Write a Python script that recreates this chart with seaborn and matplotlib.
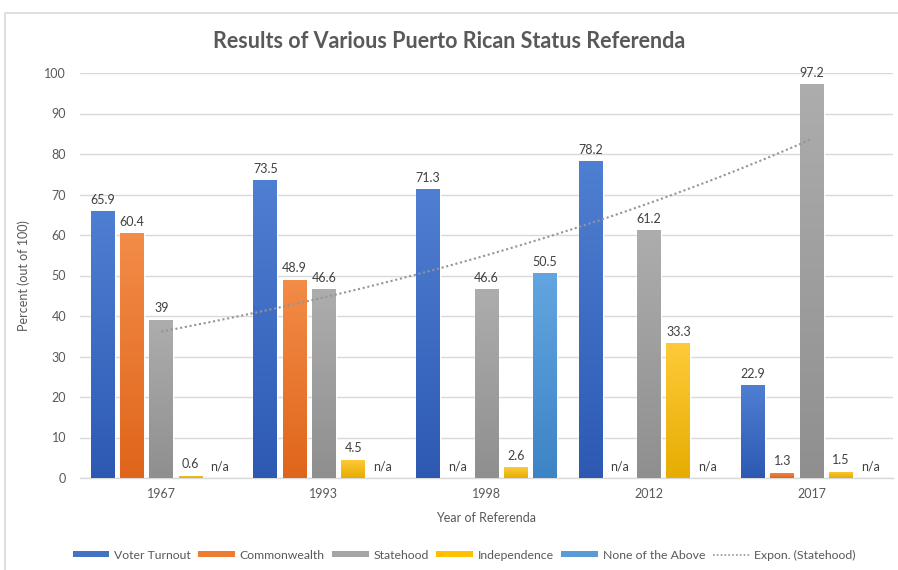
import matplotlib
matplotlib.use("Agg")
import matplotlib.pyplot as plt
from matplotlib.colors import LinearSegmentedColormap
from matplotlib.patches import Rectangle
from matplotlib.lines import Line2D
import numpy as np
import pandas as pd
import seaborn as sns

# Data (None = n/a)
years = ["1967", "1993", "1998", "2012", "2017"]
series = ["Voter Turnout", "Commonwealth", "Statehood", "Independence", "None of the Above"]
voter_turnout = [65.9, 73.5, 71.3, 78.2, 22.9]
commonwealth = [60.4, 48.9, None, None, 1.3]
statehood = [39, 46.6, 46.6, 61.2, 97.2]
independence = [0.6, 4.5, 2.6, 33.3, 1.5]
none_of_above = [None, None, 50.5, None, None]

base_colors = ["#4472C4", "#ED7D31", "#A5A5A5", "#FFC000", "#5B9BD5"]
top_colors = ["#4f7fd2", "#f28c48", "#adadad", "#ffca3a", "#62a5e0"]
bottom_colors = ["#2d59b3", "#e0651a", "#8f8f8f", "#e6ad00", "#3d84c6"]

TEXT = "#595959"
GRID = "#d9d9d9"
TREND = "#959595"

sns.set_theme(style="white")
plt.rcParams["font.family"] = ["Lato", "DejaVu Sans"]

rows = []
for name, vals in zip(series, [voter_turnout, commonwealth, statehood, independence, none_of_above]):
    for yr, v in zip(years, vals):
        rows.append({"year": yr, "series": name, "value": 0.0 if v is None else v,
                     "label": "n/a" if v is None else f"{v:g}"})
df = pd.DataFrame(rows)

fig = plt.figure(figsize=(8.98, 5.70), dpi=100)
ax = fig.add_axes([80 / 898, 92 / 570, 813 / 898, 405 / 570])

sns.barplot(data=df, x="year", y="value", hue="series", order=years, hue_order=series,
            palette=base_colors, width=0.9, gap=0.18, errorbar=None, legend=False,
            saturation=1, ax=ax, zorder=3)

# vertical gradient fill on each bar
grad = np.linspace(0, 1, 256).reshape(-1, 1)
for i, cont in enumerate(ax.containers):
    cmap = LinearSegmentedColormap.from_list(f"g{i}", [bottom_colors[i], top_colors[i]])
    for bar in cont:
        h = bar.get_height()
        if h <= 0:
            continue
        x0 = bar.get_x()
        w = bar.get_width()
        im = ax.imshow(grad, extent=[x0, x0 + w, 0, h], origin="lower", aspect="auto",
                       cmap=cmap, zorder=3.5, interpolation="bilinear")
        im.set_clip_path(bar)
    labels = df[df["series"] == series[i]]["label"].tolist()
    ax.bar_label(cont, labels=labels, padding=4, fontsize=9, color="#404040")

# exponential trendline for Statehood
xs = np.arange(len(years))
coef = np.polyfit(xs, np.log(statehood), 1)
xt = np.linspace(0, len(years) - 1, 100)
ax.plot(xt, np.exp(coef[1] + coef[0] * xt), linestyle=(0, (1, 1.3)), color=TREND,
        linewidth=1.5, zorder=4)

ax.set_xlim(-0.5, len(years) - 0.5)
ax.set_ylim(0, 100)
ax.set_yticks(range(0, 101, 10))
ax.yaxis.grid(True, color=GRID, linewidth=1, zorder=0)
ax.set_axisbelow(True)
for s in ["top", "right", "left"]:
    ax.spines[s].set_visible(False)
ax.spines["bottom"].set_color(GRID)
ax.spines["bottom"].set_linewidth(1)
ax.tick_params(axis="both", length=0, labelsize=9, labelcolor=TEXT)
ax.tick_params(axis="y", pad=10)
ax.tick_params(axis="x", pad=7)
ax.set_xlabel("Year of Referenda", fontsize=9, color=TEXT, labelpad=9)
ax.set_ylabel("Percent (out of 100)", fontsize=9, color=TEXT, labelpad=10)

fig.text(0.5, 1 - 41 / 570, "Results of Various Puerto Rican Status Referenda",
         ha="center", va="center", fontsize=15.5, fontweight="bold", color=TEXT)

handles = [Rectangle((0, 0), 1, 1, facecolor=c, edgecolor="none") for c in base_colors]
handles.append(Line2D([0], [0], linestyle=(0, (1, 1.3)), color=TREND, linewidth=1.2))
fig.legend(handles, series + ["Expon. (Statehood)"], loc="center",
           bbox_to_anchor=(0.517, 15 / 570), ncol=6, frameon=False, fontsize=8.8,
           labelcolor=TEXT, handlelength=3.0, handleheight=0.45, handletextpad=0.4,
           columnspacing=0.6)

# chart frame
fig.add_artist(Rectangle((5 / 898, -0.1), 1.2, 1 - 13 / 570 + 0.1, transform=fig.transFigure,
                         fill=False, edgecolor=GRID, linewidth=1.2))

fig.savefig("out.png", dpi=100)
